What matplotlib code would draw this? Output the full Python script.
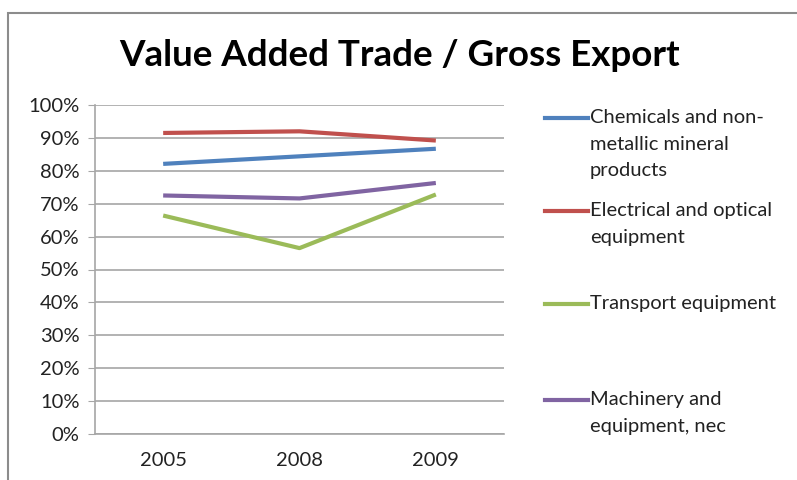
import matplotlib
matplotlib.use("Agg")
import matplotlib.pyplot as plt
from matplotlib.lines import Line2D
from matplotlib.patches import Rectangle
from matplotlib.ticker import FuncFormatter

years = ["2005", "2008", "2009"]
series_names = [
    "Chemicals and non-\nmetallic mineral\nproducts",
    "Electrical and optical\nequipment",
    "Transport equipment",
    "Machinery and\nequipment, nec",
]
chemicals = [0.821, 0.844, 0.867]
electrical = [0.915, 0.920, 0.892]
transport = [0.664, 0.565, 0.728]
machinery = [0.725, 0.716, 0.763]
colors = ["#4F81BD", "#C0504D", "#9BBB59", "#8064A2"]

plt.rcParams['font.family'] = ['Lato', 'DejaVu Sans']

W, H = 797, 480
fig = plt.figure(figsize=(W / 100, H / 100), dpi=100)

# outer chart frame (cropped at right and bottom)
fig.add_artist(Rectangle((8 / W, -0.05), 1.1, 1.05 - 13 / H, transform=fig.transFigure,
                         fill=False, edgecolor="#8c8c8c", linewidth=1.5))

ax = fig.add_axes([95 / W, 1 - 434 / H, (504 - 95) / W, (434 - 105) / H])

data = [chemicals, electrical, transport, machinery]
x = range(len(years))
for vals, c in zip(data, colors):
    ax.plot(x, vals, color=c, linewidth=3, solid_capstyle="butt")

ax.set_xlim(-0.5, len(years) - 0.5)
ax.set_ylim(0, 1)
ax.set_yticks([i / 10 for i in range(11)])
ax.yaxis.set_major_formatter(FuncFormatter(lambda v, p: f"{v * 100:.0f}%"))
ax.set_xticks(list(x))
ax.set_xticklabels(years)
ax.grid(axis="y", color="#a6a6a6", linewidth=1.2)
ax.set_axisbelow(True)
for s in ["top", "right"]:
    ax.spines[s].set_visible(False)
for s in ["left", "bottom"]:
    ax.spines[s].set_color("#a6a6a6")
    ax.spines[s].set_linewidth(1.2)
ax.tick_params(axis="y", length=5, color="#a6a6a6", labelsize=14.5, pad=6, labelcolor="#222222")
ax.tick_params(axis="x", length=0, labelsize=14.5, pad=13, labelcolor="#222222")

fig.text(400 / W, 1 - 56 / H, "Value Added Trade / Gross Export", ha="center", va="center",
         fontsize=26.5, fontweight="bold", color="#000000")

# legend drawn by hand to match spacing
legend_y = [118, 211, 304, 400]
for name, c, ly in zip(series_names, colors, legend_y):
    fig.add_artist(Line2D([545 / W, 588 / W], [1 - ly / H, 1 - ly / H], transform=fig.transFigure,
                          color=c, linewidth=3))
    fig.text(590 / W, 1 - (ly - 9) / H, name, ha="left", va="top", fontsize=14.5,
             color="#222222", linespacing=1.68)

fig.savefig("out.png", dpi=100)
